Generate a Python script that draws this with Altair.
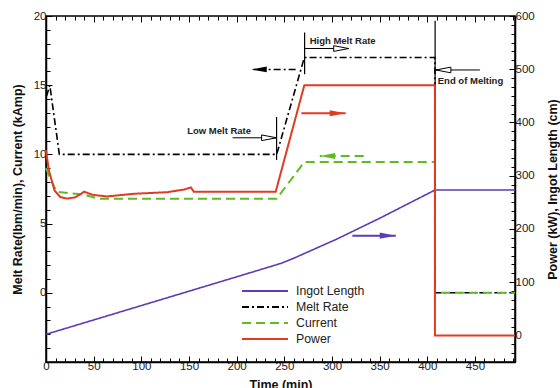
import altair as alt
import pandas as pd

FONT = "Liberation Sans"

# ---------------- data ----------------
time_ingot = [0, 50, 100, 150, 200, 246, 260, 280, 304, 350, 408, 492]
ingot_length = [2, 29, 56, 83, 110, 135, 145, 161, 180, 220, 273, 273]

time_melt = [0, 1, 4, 14, 242, 271, 408, 408, 492]
melt_rate = [14.2, 14.3, 15.0, 10.0, 10.0, 17.0, 17.0, 0.0, 0.0]

time_current = [0, 3, 11, 40, 55, 242, 271, 408, 408, 492]
current = [9.0, 8.5, 7.3, 7.1, 6.8, 6.8, 9.45, 9.45, 0.0, 0.0]

time_power = [0, 3, 9, 15, 22, 30, 36, 40, 49, 64, 92, 127, 145, 152, 155, 241, 271, 408, 408, 492]
power = [348, 310, 272, 260, 257, 259, 265, 270, 264, 261, 266, 269, 274, 278, 270, 270, 470, 470, 0, 0]

series_names = ["Ingot Length", "Melt Rate", "Current", "Power"]
series_colors = ["#5b3db5", "#000000", "#5dbb24", "#e03c24"]
series_dashes = [[1, 0], [7, 3, 2, 3], [9, 5], [1, 0]]

left_ticks = list(range(-5, 21))
right_ticks = [round(-50 + k * 100 / 6, 3) for k in range(40)]
time_ticks = list(range(0, 491, 10))

# annotations (left-axis units)
marker_time = [408.2, 241.9, 271.3]
marker_top = [19.65, 12.7, 18.8]
marker_bottom = [0.0, 9.6, 15.8]

label_text = ["High Melt Rate", "Low Melt Rate", "End of Melting"]
label_time = [276.6, 148.1, 411.0]
label_value = [18.2, 11.7, 15.3]

pointer_tail = [271.3, 195.7, 455.2]
pointer_tip = [317.5, 241.9, 409.0]
pointer_level = [17.65, 11.2, 16.1]
pointer_dir = ["right", "right", "left"]

ind_color = ["#000000", "#5dbb24", "#e03c24", "#5b3db5"]
ind_style = ["dashdot", "dashed", "solid", "solid"]
ind_dir = ["left", "left", "right", "right"]
ind_tail = [261.9, 333.3, 267.9, 321.4]
ind_tip = [215.3, 287.2, 314.4, 366.9]
ind_level = [16.14, 9.88, 12.97, 4.13]

# ---------------- chart ----------------
W, H = 469, 346
RIGHT_HEAD = "M0,0L-2,-0.38L-2,0.38Z"
LEFT_HEAD = "M0,0L2,-0.38L2,0.38Z"

x_scale = alt.Scale(domain=[0, 492], nice=False, zero=False)
left_scale = alt.Scale(domain=[-5, 20], nice=False, zero=False)
right_scale = alt.Scale(domain=[-50, 600], nice=False, zero=False)

major_x = "datum.value % 50 == 0"
major_l = "datum.value % 5 == 0"
major_r = "abs(datum.value / 100 - round(datum.value / 100)) < 0.001"


def tick_len(test):
    return {"condition": {"test": test, "value": -6}, "value": -4}


common = dict(
    ticks=True, tickColor="black", tickWidth=1, grid=False,
    domainColor="black", domainWidth=1.5, labelFont=FONT, labelFontSize=11.5,
    labelColor="#222222", labelOverlap=False, labelFlush=False,
    titleFont=FONT, titleFontSize=12.5, titleFontWeight="bold", titleColor="#111111",
    titleAlign="center", titleBaseline="middle",
)

x_axis = alt.Axis(
    values=time_ticks, tickSize=tick_len(major_x),
    labelExpr=f"{major_x} ? datum.label : ''",
    labelPadding=4, title="Time (min)", titleX=W / 2, titleY=22, **common,
)
x_top_axis = alt.Axis(
    orient="top", values=time_ticks, tickSize=tick_len(major_x),
    ticks=True, tickColor="black", tickWidth=1, grid=False,
    labels=False, domain=False, title=None,
)
left_axis = alt.Axis(
    orient="left", values=left_ticks, tickSize=tick_len(major_l),
    labelExpr=f"{major_l} && datum.value >= 0 ? datum.label : ''",
    labelPadding=6, title="Melt Rate(lbm/min), Current (kAmp)",
    titleAngle=270, titleX=-29, titleY=H / 2, **common,
)
right_axis = alt.Axis(
    orient="right", values=right_ticks, tickSize=tick_len(major_r),
    labelExpr=f"{major_r} && datum.value > -1 ? format(datum.value, 'd') : ''",
    labelPadding=6, title="Power (kW), Ingot Length (cm)",
    titleAngle=270, titleX=37.5, titleY=H / 2, **common,
)


def xe(f):
    return alt.X(f + ":Q", scale=x_scale, axis=x_axis)


def xt(f):
    return alt.X(f + ":Q", scale=x_scale, axis=x_top_axis)


def yl(f):
    return alt.Y(f + ":Q", scale=left_scale, axis=left_axis)


def yr(f):
    return alt.Y(f + ":Q", scale=right_scale, axis=right_axis)


legend = alt.Legend(
    title=None, orient="none", legendX=195, legendY=267, symbolType="stroke",
    symbolSize=2116, symbolStrokeWidth=2, clipHeight=16, rowPadding=0,
    labelOffset=7, labelFont=FONT, labelFontSize=12.3, labelColor="#222222", padding=0,
)
color = alt.Color("series:N", scale=alt.Scale(domain=series_names, range=series_colors), legend=legend)
dash = alt.StrokeDash("series:N", scale=alt.Scale(domain=series_names, range=series_dashes), legend=legend)


def sdf(t, v, name):
    return pd.DataFrame({"t": t, "v": v, "series": name, "i": list(range(len(t)))})


melt_df = sdf(time_melt, melt_rate, "Melt Rate")
curr_df = sdf(time_current, current, "Current")
ingot_df = sdf(time_ingot, ingot_length, "Ingot Length")
power_df = sdf(time_power, power, "Power")

markers_df = pd.DataFrame({"t": marker_time, "top": marker_top, "bottom": marker_bottom})
labels_df = pd.DataFrame({"t": label_time, "v": label_value, "label": label_text})
pointer_df = pd.DataFrame({"tail": pointer_tail, "tip": pointer_tip, "level": pointer_level, "dir": pointer_dir})
ind_df = pd.DataFrame({"tail": ind_tail, "tip": ind_tip, "level": ind_level,
                       "col": ind_color, "style": ind_style, "dir": ind_dir})

markers = alt.Chart(markers_df).mark_rule(color="black", strokeWidth=1.2).encode(
    x=xe("t"), y=yl("top"), y2="bottom")
labels = alt.Chart(labels_df).mark_text(
    align="left", baseline="middle", font=FONT, fontSize=9.5, fontWeight="bold", color="#222222"
).encode(x=xe("t"), y=yl("v"), text="label:N")
ptr_shaft = alt.Chart(pointer_df).mark_rule(color="black", strokeWidth=1).encode(
    x=xe("tail"), x2="tip", y=yl("level"))
ptr_head_r = alt.Chart(pointer_df).transform_filter("datum.dir == 'right'").mark_point(
    shape=RIGHT_HEAD, size=225, filled=True, fill="white", stroke="black", strokeWidth=1, opacity=1
).encode(x=xe("tip"), y=yl("level"))
ptr_head_l = alt.Chart(pointer_df).transform_filter("datum.dir == 'left'").mark_point(
    shape=LEFT_HEAD, size=225, filled=True, fill="white", stroke="black", strokeWidth=1, opacity=1
).encode(x=xe("tip"), y=yl("level"))

ind_base = alt.Chart(ind_df)
ind_dashdot = ind_base.transform_filter("datum.style == 'dashdot'").mark_rule(
    strokeWidth=1.5, strokeDash=[7, 3, 2, 3]).encode(
    x=xe("tail"), x2="tip", y=yl("level"), stroke=alt.Stroke("col:N", scale=None))
ind_dashed = ind_base.transform_filter("datum.style == 'dashed'").mark_rule(
    strokeWidth=2, strokeDash=[9, 5]).encode(
    x=xe("tail"), x2="tip", y=yl("level"), stroke=alt.Stroke("col:N", scale=None))
ind_solid = ind_base.transform_filter("datum.style == 'solid'").mark_rule(
    strokeWidth=2).encode(
    x=xe("tail"), x2="tip", y=yl("level"), stroke=alt.Stroke("col:N", scale=None))
ind_head_l = ind_base.transform_filter("datum.dir == 'left'").mark_point(
    shape=LEFT_HEAD, size=240, filled=True, strokeWidth=0, opacity=1).encode(
    x=xe("tip"), y=yl("level"), fill=alt.Fill("col:N", scale=None))
ind_head_r = ind_base.transform_filter("datum.dir == 'right'").mark_point(
    shape=RIGHT_HEAD, size=256, filled=True, strokeWidth=0, opacity=1).encode(
    x=xe("tip"), y=yl("level"), fill=alt.Fill("col:N", scale=None))

melt_line = alt.Chart(melt_df).mark_line(strokeWidth=1.6).encode(
    x=xe("t"), y=yl("v"), color=color, strokeDash=dash, order="i:Q")
curr_line = alt.Chart(curr_df).mark_line(strokeWidth=2).encode(
    x=xe("t"), y=yl("v"), color=color, strokeDash=dash, order="i:Q")
ingot_line = alt.Chart(ingot_df).mark_line(strokeWidth=1.6).encode(
    x=xt("t"), y=yr("v"), color=color, strokeDash=dash, order="i:Q")
power_line = alt.Chart(power_df).mark_line(strokeWidth=2).encode(
    x=xt("t"), y=yr("v"), color=color, strokeDash=dash, order="i:Q")

left_group = alt.layer(markers, ptr_shaft, ptr_head_r, ptr_head_l, labels,
                       ind_dashdot, ind_dashed, ind_solid, ind_head_l, ind_head_r,
                       melt_line, curr_line)
right_group = alt.layer(ingot_line, power_line)

chart = alt.layer(left_group, right_group).resolve_scale(
    y="independent"
).resolve_axis(x="independent").properties(
    width=W, height=H,
    autosize=alt.AutoSizeParams(type="none"),
    padding={"left": 46, "top": 16, "right": 45, "bottom": 26},
    background="white",
).configure_view(stroke="black", strokeWidth=1.5)

chart.save("out.html", embed_options={"renderer": "svg", "actions": False})
